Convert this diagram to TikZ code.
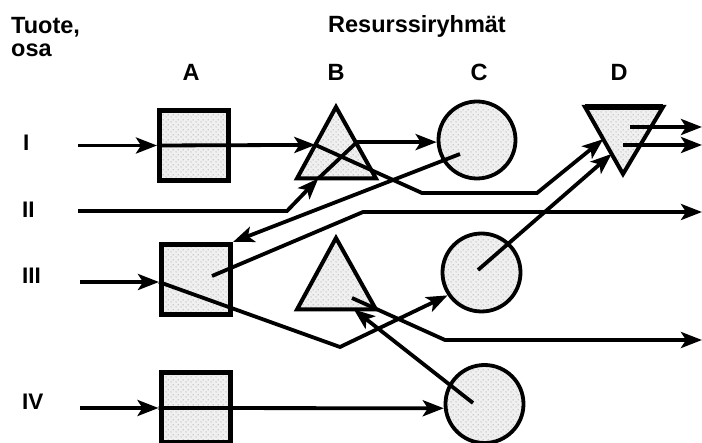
\documentclass[tikz,border=0pt]{standalone}
\usepackage{fontspec}
\setmainfont{Liberation Sans}
\usetikzlibrary{arrows.meta,calc,patterns.meta}

% sparse staggered stipple used inside the resource symbols
\tikzdeclarepattern{
  name=stipple,
  type=uncolored,
  bounding box={(0pt,0pt) and (5pt,5pt)},
  tile size={(5pt,5pt)},
  code={
    \pgfpathcircle{\pgfpoint{1.25pt}{1.25pt}}{0.7pt}
    \pgfpathcircle{\pgfpoint{3.75pt}{3.75pt}}{0.7pt}
    \pgfusepath{fill}
  }
}

\tikzset{
  res/.style={draw=black, preaction={fill=gray!12}, pattern=stipple, pattern color=gray!70},
  sq/.style={res, rectangle, line width=5pt, minimum width=69pt, minimum height=70pt, inner sep=0pt},
  circ/.style={res, circle, line width=3.8pt, minimum size=77pt, inner sep=0pt},
  tri/.style={res, line width=4pt, line join=miter},
  flow/.style={line width=3.8pt, line join=miter, -{Stealth[length=21pt,width=16pt,inset=5pt]}},
  lbl/.style={font=\bfseries\fontsize{23.5}{26}\selectfont, inner sep=0pt},
  rowlbl/.style={font=\bfseries\fontsize{22.5}{24}\selectfont, inner sep=0pt, anchor=base west},
}

\begin{document}
\begin{tikzpicture}[x=1pt,y=-1pt]
\useasboundingbox (0,0) rectangle (702,443);
\fill[white] (0,0) rectangle (702,443);
\clip (0,0) rectangle (702,443);

% headings
\node[lbl, anchor=base west] (tuote) at (11,34) {Tuote,};
\node[lbl, anchor=base west] (osa) at (11,57) {osa};
\node[lbl, anchor=base west] (ryhmat) at (328,33) {Resurssiryhmät};
\node[lbl, anchor=base] (colA) at (191,81) {A};
\node[lbl, anchor=base] (colB) at (336,81) {B};
\node[lbl, anchor=base] (colC) at (479,81) {C};
\node[lbl, anchor=base] (colD) at (619,81) {D};

% row labels
\node[rowlbl] (rowI) at (23,151) {I};
\node[rowlbl] (rowII) at (22,218) {II};
\node[rowlbl] (rowIII) at (22,284) {III};
\node[rowlbl] (rowIV) at (22,410) {IV};

% resource group A: squares
\node[sq] (aI) at (194,145.5) {};
\node[sq] (aIII) at (196,279.5) {};
\node[sq] (aIV) at (195.5,407.5) {};

% resource group C: circles
\node[circ] (cI) at (477,140) {};
\node[circ, minimum size=78pt] (cIII) at (481.5,272.5) {};
\node[circ, minimum size=78pt] (cIV) at (484.5,404) {};

% resource group B: triangles
\coordinate (bIt) at (336,107);
\coordinate (bIl) at (297,178.5);
\coordinate (bIr) at (376,178.5);
\draw[tri] (bIt) -- (bIl) -- (bIr) -- cycle;
\coordinate (bIIIt) at (336,238);
\coordinate (bIIIl) at (297,309.5);
\coordinate (bIIIr) at (376,309.5);
\draw[tri] (bIIIt) -- (bIIIl) -- (bIIIr) -- cycle;

% resource group D: inverted triangle with heavier top edge
\coordinate (dl) at (585,107);
\coordinate (dr) at (663,107);
\coordinate (dA) at (623,174);
\draw[tri] (dl) -- (dr) -- (dA) -- cycle;
\draw[line width=5.5pt] (dl) -- (dr);

% entry, exit and hand-over points
\coordinate (inI) at (78,145.5);
\coordinate (inII) at (78,211);
\coordinate (inIII) at (80,282);
\coordinate (inIV) at (80,408);
\coordinate (outD1) at (702,127);
\coordinate (outD2) at (702,145);
\coordinate (outII) at (702,212);
\coordinate (outIII) at (702,340);
\coordinate (bIin) at ($(bIt)!0.53!(bIl)$);
\coordinate (bIbot) at ($(bIl)!0.27!(bIr)$);
\coordinate (bIIIbot) at ($(bIIIl)!0.72!(bIIIr)$);
\coordinate (dIin1) at ($(dl)!0.48!(dA)$);
\coordinate (dIin2) at ($(dl)!0.70!(dA)$);
\coordinate (cIsrc) at (460,154);
\coordinate (aIIIsrc) at (212,276);
\coordinate (bIIIsrc) at (352,298);
\coordinate (cIIIsrc) at (478,270);
\coordinate (cIVsrc) at (473,403);
\coordinate (dsrc1) at (630,127);
\coordinate (dsrc2) at (623,145);

% part I
\draw[flow] (inI) -- (aI.west);
\draw[flow] (aI.west) -- (bIin);
\draw[flow] (bIin) -- (422,193) -- (537,193) -- (dIin1);
\draw[flow] (dsrc1) -- (outD1);
\draw[flow] (dsrc2) -- (outD2);

% part II
\draw[flow] (inII) -- (287,211) -- (bIbot);
\draw[flow] (bIbot) -- (357,142) -- (cI.183);
\draw[flow] (cIsrc) -- (aIII.north east);
\draw[flow] (aIIIsrc) -- (363,212) -- (outII);

% part III
\draw[flow] (inIII) -- (aIII.west |- inIII);
\draw[flow] (aIII.west |- inIII) -- (340,347) -- (cIII.214);
\draw[flow] (cIIIsrc) -- (dIin2);
\draw[flow] (bIIIsrc) -- (445,340) -- (outIII);

% part IV
\draw[flow] (inIV) -- (aIV.west |- inIV);
\draw[flow] (aIV.west |- inIV) -- (cIV.186);
\draw[flow] (cIVsrc) -- (bIIIbot);
\end{tikzpicture}
\end{document}
